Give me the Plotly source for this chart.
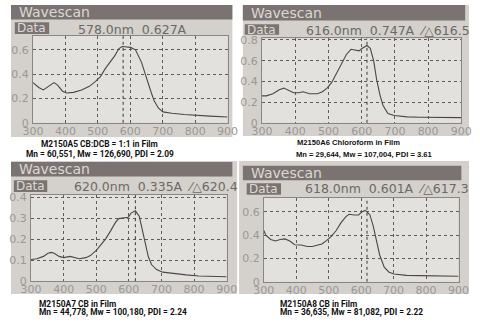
import plotly.graph_objects as go

W, H = 480, 327

# ---------------- data ----------------
wl_a5 = [300, 318, 332, 347, 365, 376, 391, 404, 425, 450, 474, 493, 508, 523, 537, 552, 565, 575, 583, 601, 616, 625, 635, 645, 655, 665, 674, 687, 701, 728, 767, 806, 845, 900]
abs_a5 = [0.33, 0.29, 0.27, 0.30, 0.33, 0.31, 0.26, 0.245, 0.25, 0.27, 0.30, 0.34, 0.38, 0.445, 0.495, 0.55, 0.61, 0.627, 0.625, 0.62, 0.60, 0.555, 0.495, 0.41, 0.32, 0.245, 0.18, 0.12, 0.09, 0.078, 0.068, 0.06, 0.055, 0.048]

wl_a6 = [300, 313, 333, 352, 366, 381, 395, 410, 424, 443, 467, 482, 496, 510, 525, 539, 554, 568, 581, 592, 602, 612, 616, 626, 636, 645, 655, 664, 679, 698, 737, 775, 852, 871, 900]
abs_a6 = [0.26, 0.26, 0.28, 0.32, 0.335, 0.31, 0.29, 0.29, 0.30, 0.28, 0.28, 0.30, 0.335, 0.39, 0.48, 0.57, 0.66, 0.71, 0.70, 0.695, 0.72, 0.745, 0.747, 0.72, 0.60, 0.42, 0.27, 0.17, 0.09, 0.07, 0.057, 0.054, 0.054, 0.05, 0.05]

wl_a7 = [300, 318, 338, 352, 362, 371, 386, 400, 420, 434, 448, 468, 482, 501, 516, 530, 545, 559, 569, 583, 598, 607, 617, 620, 632, 641, 651, 660, 670, 685, 704, 738, 776, 815, 853, 892, 900]
abs_a7 = [0.103, 0.107, 0.118, 0.133, 0.137, 0.133, 0.118, 0.112, 0.118, 0.112, 0.107, 0.112, 0.122, 0.148, 0.175, 0.204, 0.242, 0.28, 0.298, 0.301, 0.304, 0.324, 0.334, 0.335, 0.309, 0.249, 0.175, 0.115, 0.078, 0.055, 0.043, 0.036, 0.03, 0.025, 0.022, 0.021, 0.021]

wl_a8 = [300, 306, 321, 336, 350, 365, 380, 395, 415, 434, 449, 464, 479, 494, 508, 523, 538, 553, 563, 578, 592, 602, 612, 618, 627, 637, 647, 657, 671, 686, 701, 740, 780, 820, 859, 900]
abs_a8 = [0.44, 0.40, 0.363, 0.35, 0.363, 0.368, 0.35, 0.318, 0.316, 0.303, 0.303, 0.316, 0.324, 0.355, 0.39, 0.44, 0.508, 0.56, 0.58, 0.574, 0.574, 0.60, 0.613, 0.601, 0.574, 0.48, 0.35, 0.23, 0.126, 0.082, 0.066, 0.055, 0.053, 0.05, 0.047, 0.047]

cursor_nm = [578.0, 616.0, 620.0, 618.0]
readouts = ["578.0nm  0.627A", "616.0nm  0.747A  \u2044\u25B3616.5",
            "620.0nm  0.335A  \u2044\u25B3620.4", "618.0nm  0.601A  \u2044\u25B3617.3"]
caption_l1 = ["M2150A5 CB:DCB = 1:1 in Film", "M2150A6 Chloroform in Film",
              "M2150A7 CB in Film", "M2150A8 CB in Film"]
caption_l2 = ["Mn = 60,551, Mw = 126,690, PDI = 2.09", "Mn = 29,644, Mw = 107,004, PDI = 3.61",
              "Mn = 44,778, Mw = 100,180, PDI = 2.24", "Mn = 36,635, Mw = 81,082, PDI = 2.22"]
y_tops = [0.715, 0.815, 0.41, 0.72]
y_dticks = [0.2, 0.2, 0.1, 0.2]
x_ticks = [300, 400, 500, 600, 700, 800, 900]

series = [(wl_a5, abs_a5), (wl_a6, abs_a6), (wl_a7, abs_a7), (wl_a8, abs_a8)]

# ---------------- layout geometry (pixels) ----------------
def PX(x):
    return x / W

def PY(y):
    return 1 - y / H

plot_boxes = [(23, 227, 32, 122.3), (263, 472, 34.7, 122.3),
              (21, 226, 197.3, 286.7), (265, 469, 200.3, 287.3)]
photos = [(0, 232, 0, 137), (243, 480, 0, 136), (0, 237, 162, 300), (239, 480, 162, 300)]
headers = [(0, 232, 0, 15), (243, 476, 0, 16), (0, 232, 163, 178), (243, 472, 167, 182)]
data_boxes = [(4, 40, 18, 30), (245, 281, 20, 31), (3, 38, 182, 194), (247, 283, 185, 197)]
readout_pos = [(127, 25), (395, 26), (152, 188), (394, 191)]
caption_pos = [(93, 144, 93, 154.5, "center"), (298, 143, 297, 155, "left"),
               (27, 310, 27, 319, "left"), (280, 310, 280, 319, "left")]

fig = go.Figure()
shapes = []
annotations = []

BAR = "#7b7371"
SCREEN = "#d4d1cc"
PLOTBG = "#e3e1dd"
TXT = "#6b6866"

for (x0, x1, y0, y1) in photos:
    shapes.append(dict(type="rect", xref="paper", yref="paper", layer="below",
                       x0=PX(x0), x1=PX(x1), y0=PY(y1), y1=PY(y0),
                       fillcolor=SCREEN, line=dict(width=0)))
for (x0, x1, y0, y1) in headers + data_boxes:
    shapes.append(dict(type="rect", xref="paper", yref="paper", layer="below",
                       x0=PX(x0), x1=PX(x1), y0=PY(y1), y1=PY(y0),
                       fillcolor=BAR, line=dict(width=0)))

for i in range(4):
    hx0, hx1, hy0, hy1 = headers[i]
    annotations.append(dict(text="Wavescan", xref="paper", yref="paper",
                            x=PX(hx0 + 6), y=PY((hy0 + hy1) / 2), xanchor="left", yanchor="middle",
                            showarrow=False, font=dict(family="DejaVu Sans", size=14, color="#ddd8d4")))
    dx0, dx1, dy0, dy1 = data_boxes[i]
    annotations.append(dict(text="Data", xref="paper", yref="paper",
                            x=PX((dx0 + dx1) / 2), y=PY((dy0 + dy1) / 2), xanchor="center", yanchor="middle",
                            showarrow=False, font=dict(family="DejaVu Sans", size=12, color="#ddd8d4")))
    rx, ry = readout_pos[i]
    annotations.append(dict(text=readouts[i], xref="paper", yref="paper",
                            x=PX(rx), y=PY(ry), xanchor="center", yanchor="middle",
                            showarrow=False, font=dict(family="DejaVu Sans", size=12.5, color=TXT)))
    c1x, c1y, c2x, c2y, anc = caption_pos[i]
    fam = "Liberation Sans" if i == 1 else "Roboto"
    fs = 7.6 if i == 1 else 8.4
    annotations.append(dict(text="<b>" + caption_l1[i] + "</b>", xref="paper", yref="paper",
                            x=PX(c1x), y=PY(c1y), xanchor=anc, yanchor="middle",
                            showarrow=False, font=dict(family=fam, size=fs, color="#111111")))
    annotations.append(dict(text="<b>" + caption_l2[i] + "</b>", xref="paper", yref="paper",
                            x=PX(c2x), y=PY(c2y), xanchor=anc, yanchor="middle",
                            showarrow=False, font=dict(family=fam, size=fs, color="#111111")))

    # axes
    bx0, bx1, by0, by1 = plot_boxes[i]
    sx = "" if i == 0 else str(i + 1)
    shapes.append(dict(type="rect", xref="paper", yref="paper", layer="below",
                       x0=PX(bx0), x1=PX(bx1), y0=PY(by1), y1=PY(by0),
                       fillcolor=PLOTBG, line=dict(width=0)))
    fig.add_trace(go.Scatter(x=series[i][0], y=series[i][1], mode="lines",
                             line=dict(color="#4a4746", width=1.1),
                             xaxis="x" + sx, yaxis="y" + sx, showlegend=False,
                             hoverinfo="skip"))
    axis_common = dict(showgrid=True, gridcolor="#5e5b59", griddash="dot", gridwidth=1,
                       showline=True, linecolor="#8a8683", linewidth=1, mirror=True,
                       zeroline=False, ticks="", tickfont=dict(family="DejaVu Sans", size=11, color="#9a9794"),
                       fixedrange=True)
    fig.layout["xaxis" + sx] = dict(axis_common, domain=[PX(bx0), PX(bx1)],
                                    range=[300, 900], tickvals=x_ticks,
                                    anchor="y" + sx, ticklabelstandoff=-2)
    fig.layout["yaxis" + sx] = dict(axis_common, domain=[PY(by1), PY(by0)],
                                    range=[0, y_tops[i]], dtick=y_dticks[i], tick0=0,
                                    anchor="x" + sx, tickformat="~g", ticklabelstandoff=1)
    shapes.append(dict(type="line", xref="x" + sx, yref="y" + sx + " domain",
                       x0=cursor_nm[i], x1=cursor_nm[i], y0=0, y1=1,
                       line=dict(color="#3a3837", width=1, dash="dot")))

fig.update_layout(width=W, height=H, margin=dict(l=0, r=0, t=0, b=0),
                  paper_bgcolor="white", plot_bgcolor="rgba(0,0,0,0)",
                  shapes=shapes, annotations=annotations, showlegend=False)

fig.write_html("out.html", config=dict(displayModeBar=False))
